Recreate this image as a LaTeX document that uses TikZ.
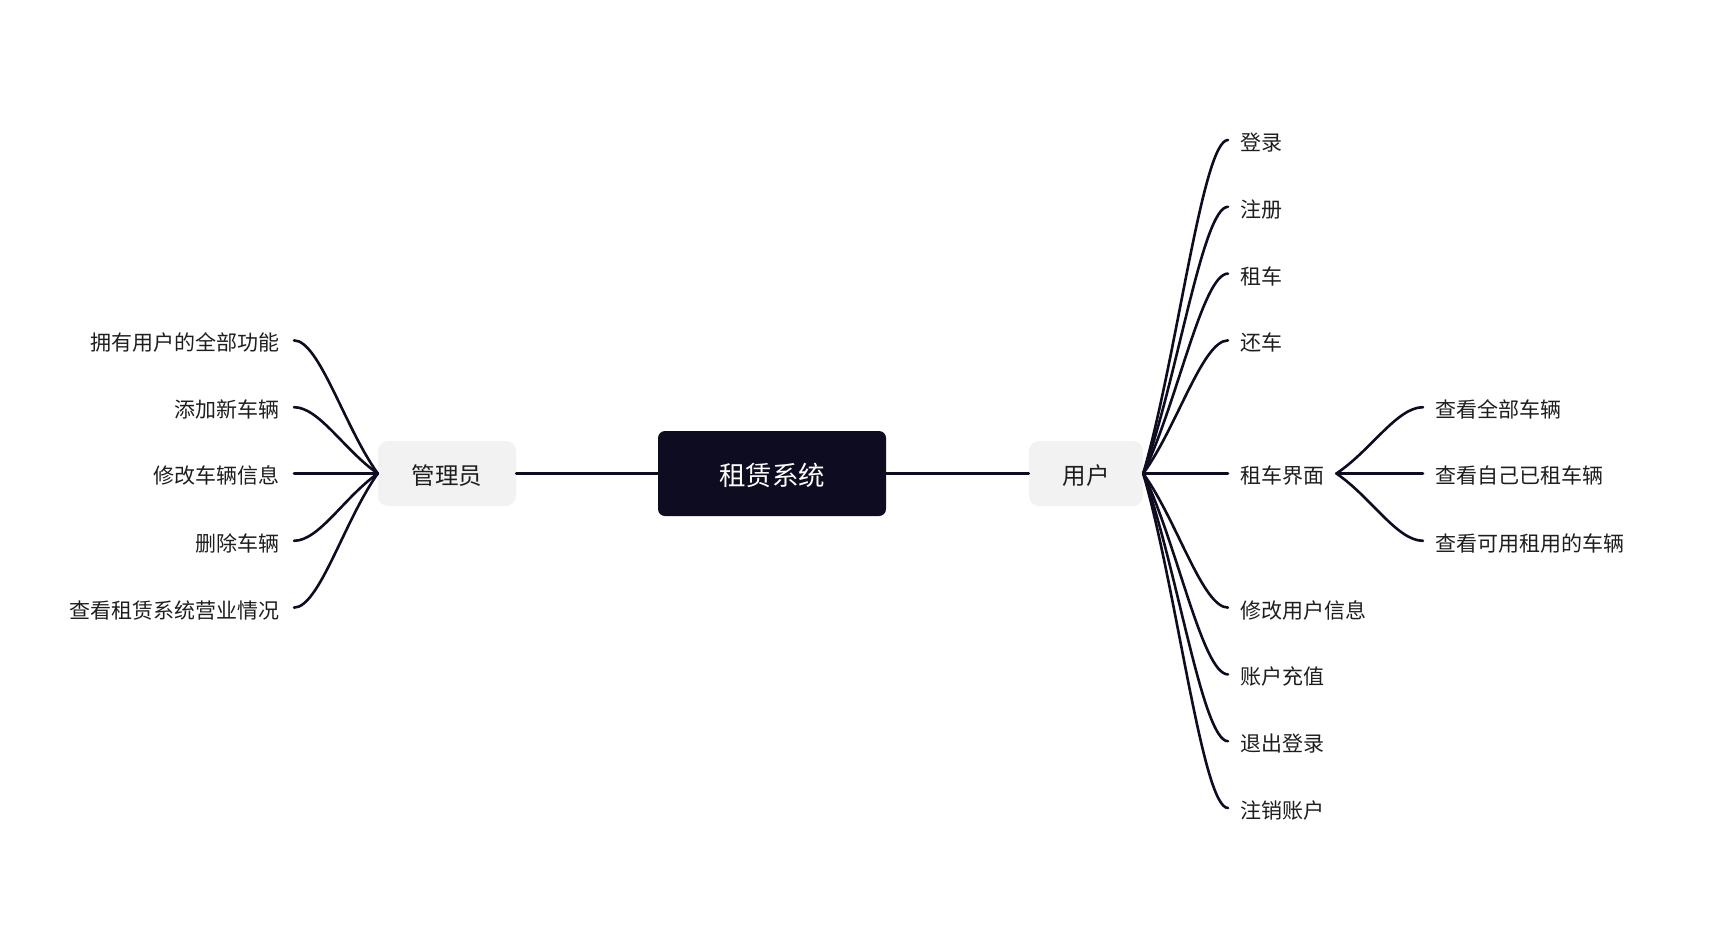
\documentclass[tikz,border=0pt]{standalone}
\usepackage{fontspec}
\setmainfont{Noto Sans CJK SC}
\usetikzlibrary{calc}
\definecolor{ink}{RGB}{14,12,32}
\definecolor{boxgray}{RGB}{242,242,242}
\definecolor{txt}{RGB}{30,30,30}
\begin{document}
\begin{tikzpicture}[x=1pt,y=-1pt,
  rootbox/.style={fill=ink,rounded corners=7pt,minimum width=228pt,minimum height=85pt,inner sep=0pt,
     text height=27pt,text depth=2.2pt,text=white,font=\fontsize{26.5}{30}\selectfont},
  mainbox/.style={fill=boxgray,rounded corners=10pt,minimum height=65pt,inner sep=0pt,
     text height=25pt,text depth=2.2pt,text=txt,font=\fontsize{23.5}{28}\selectfont},
  leaf/.style={inner xsep=12pt,inner ysep=0pt,text height=22.3pt,text depth=1.4pt,
     text=txt,font=\fontsize{21}{24}\selectfont},
  lleaf/.style={leaf,inner xsep=14pt},
  conn/.style={draw=ink,line width=2.6pt,line cap=round},
  branch/.style={to path={let \p1=(\tikztostart),\p2=(\tikztotarget) in
     .. controls ({\x1+0.4*(\x2-\x1)},{\y1+0.35*(\y2-\y1)}) and ({\x2-0.3*(\x2-\x1)},\y2) .. (\tikztotarget)}}
]
\useasboundingbox (0,0) rectangle (1724,951);

\node[rootbox] (root) at (772,473.5) {租赁系统};
\node[mainbox,minimum width=138pt] (admin) at (447,473.5) {管理员};
\node[mainbox,minimum width=114pt] (user) at (1086,473.5) {用户};

\draw[conn] (admin.east) -- (root.west);
\draw[conn] (root.east) -- (user.west);

% right children
\node[leaf,anchor=west] (r1) at (1228,140) {登录};
\node[leaf,anchor=west] (r2) at (1228,206.8) {注册};
\node[leaf,anchor=west] (r3) at (1228,273.6) {租车};
\node[leaf,anchor=west] (r4) at (1228,340.4) {还车};
\node[leaf,anchor=west] (r5) at (1228,473.5) {租车界面};
\node[leaf,anchor=west] (r6) at (1228,607.6) {修改用户信息};
\node[leaf,anchor=west] (r7) at (1228,674.4) {账户充值};
\node[leaf,anchor=west] (r8) at (1228,741.2) {退出登录};
\node[leaf,anchor=west] (r9) at (1228,808) {注销账户};

\foreach \c in {r1,r2,r3,r4,r5,r6,r7,r8,r9}
  \draw[conn] (user.east) to[branch] (\c.west);

% sub children
\node[leaf,anchor=west] (s1) at (1423,407.2) {查看全部车辆};
\node[leaf,anchor=west] (s2) at (1423,473.5) {查看自己已租车辆};
\node[leaf,anchor=west] (s3) at (1423,540.8) {查看可用租用的车辆};
\foreach \c in {s1,s2,s3}
  \draw[conn] (r5.east) to[branch] (\c.west);

% left children
\node[lleaf,anchor=east] (l1) at (294,340.4) {拥有用户的全部功能};
\node[lleaf,anchor=east] (l2) at (294,407.2) {添加新车辆};
\node[lleaf,anchor=east] (l3) at (294,473.5) {修改车辆信息};
\node[lleaf,anchor=east] (l4) at (294,540.8) {删除车辆};
\node[lleaf,anchor=east] (l5) at (294,607.6) {查看租赁系统营业情况};
\foreach \c in {l1,l2,l3,l4,l5}
  \draw[conn] (admin.west) to[branch] (\c.east);
\end{tikzpicture}
\end{document}
